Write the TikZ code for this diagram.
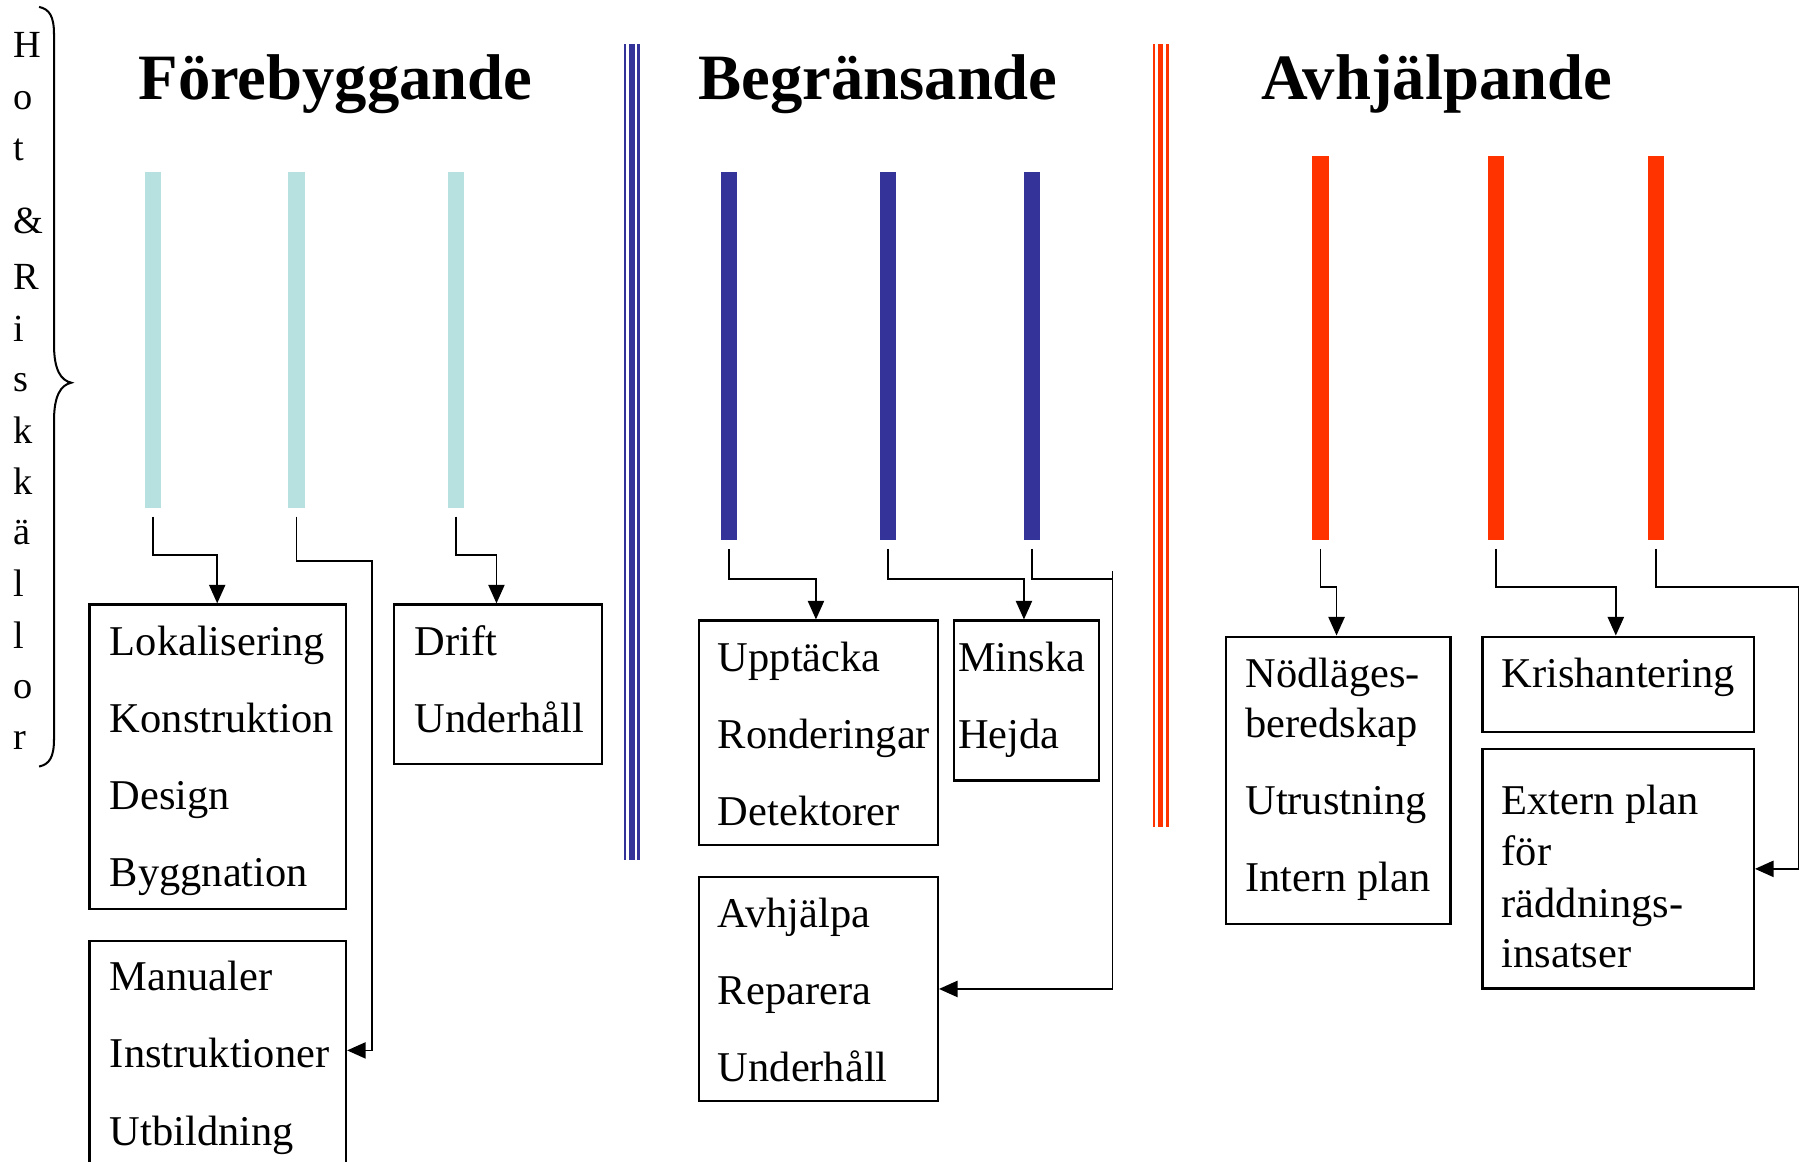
\documentclass[tikz,border=0pt]{standalone}
\usepackage{fontspec}
\setmainfont{Liberation Serif}
\usetikzlibrary{arrows.meta}
\definecolor{cyanbar}{RGB}{183,224,224}
\definecolor{bluebar}{RGB}{51,51,153}
\definecolor{redbar}{RGB}{255,51,0}
\begin{document}
\begin{tikzpicture}[x=0.01cm,y=-0.01cm,
 box/.style={draw, line width=0.55pt, inner sep=0pt, anchor=north west},
 txt/.style={anchor=base west, inner sep=0pt, font=\fontsize{10.5}{12}\selectfont},
 ttl/.style={anchor=base, inner sep=0pt, font=\fontsize{16}{18}\selectfont\bfseries},
 vlet/.style={anchor=base west, inner sep=0pt, font=\fontsize{9.5}{11}\selectfont},
 vbar/.style={anchor=north, inner sep=0pt, minimum width=0.14cm, draw=none},
 conn/.style={line width=0.45pt, -{Triangle[length=4.6pt,width=4pt]}},
 plain/.style={line width=0.45pt},
]
\clip (0,0) rectangle (1568,1011);
\fill[white] (0,0) rectangle (1568,1011);

% vertical text
\foreach \c/\y [count=\i] in {H/50, o/95, t/140, \&/203, R/252, i/297, s/341, k/386, k/430, ä/474, l/519, l/564, o/608, r/652}
  \node[vlet] (v\i) at (11,\y) {\c};

% brace
\draw[line width=0.5pt] (34,6) .. controls (43,8) and (47,14) .. (47,30) -- (47,300)
  .. controls (47,322) and (53,331) .. (62,333)
  .. controls (53,335) and (47,344) .. (47,366) -- (47,643)
  .. controls (47,659) and (43,665) .. (34,667);

% titles
\node[ttl] (T1) at (292,87) {Förebyggande};
\node[ttl] (T2) at (764,87) {Begränsande};
\node[ttl] (T3) at (1250,87) {Avhjälpande};

% separators
\fill[bluebar] (543,38) rectangle (544.6,748);
\fill[bluebar] (547.7,38) rectangle (552.3,748);
\fill[bluebar] (554.7,38) rectangle (557,748);
\fill[redbar] (1003,38) rectangle (1004.8,720);
\fill[redbar] (1007.7,38) rectangle (1012.3,720);
\fill[redbar] (1014.7,38) rectangle (1017,720);

% bars
\node[vbar, fill=cyanbar, minimum height=2.92cm] (A1) at (133,149) {};
\node[vbar, fill=cyanbar, minimum height=2.92cm] (A2) at (258,149) {};
\node[vbar, fill=cyanbar, minimum height=2.92cm] (A3) at (397,149) {};
\node[vbar, fill=bluebar, minimum height=3.20cm] (B1) at (634,149) {};
\node[vbar, fill=bluebar, minimum height=3.20cm] (B2) at (773,149) {};
\node[vbar, fill=bluebar, minimum height=3.20cm] (B3) at (898,149) {};
\node[vbar, fill=redbar, minimum height=3.34cm] (C1) at (1149,135) {};
\node[vbar, fill=redbar, minimum height=3.34cm] (C2) at (1302,135) {};
\node[vbar, fill=redbar, minimum height=3.34cm] (C3) at (1441,135) {};

% boxes
\node[box, minimum width=2.23cm, minimum height=2.65cm] (L1) at (77,525) {};
\node[box, minimum width=2.23cm, minimum height=2.30cm] (L2) at (77,818) {};
\node[box, minimum width=1.81cm, minimum height=1.39cm] (L3) at (342,525) {};
\node[box, minimum width=2.08cm, minimum height=1.95cm] (M1) at (607,539) {};
\node[box, minimum width=1.26cm, minimum height=1.39cm] (M2) at (829,539) {};
\node[box, minimum width=2.08cm, minimum height=1.95cm] (M3) at (607,762) {};
\node[box, minimum width=1.95cm, minimum height=2.50cm] (R1) at (1066,553) {};
\node[box, minimum width=2.36cm, minimum height=0.83cm] (R2) at (1289,553) {};
\node[box, minimum width=2.36cm, minimum height=2.08cm] (R3) at (1289,651) {};

% texts
\node[txt] (L1a) at (95,570) {Lokalisering};
\node[txt] (L1b) at (95,637) {Konstruktion};
\node[txt] (L1c) at (95,704) {Design};
\node[txt] (L1d) at (95,771) {Byggnation};
\node[txt] (L2a) at (95,862) {Manualer};
\node[txt] (L2b) at (95,929) {Instruktioner};
\node[txt] (L2c) at (95,997) {Utbildning};
\node[txt] (L3a) at (360,570) {Drift};
\node[txt] (L3b) at (360,637) {Underhåll};
\node[txt] (M1a) at (624,584) {Upptäcka};
\node[txt] (M1b) at (624,651) {Ronderingar};
\node[txt] (M1c) at (624,718) {Detektorer};
\node[txt] (M2a) at (833,584) {Minska};
\node[txt] (M2b) at (833,651) {Hejda};
\node[txt] (M3a) at (624,807) {Avhjälpa};
\node[txt] (M3b) at (624,874) {Reparera};
\node[txt] (M3c) at (624,941) {Underhåll};
\node[txt] (R1a) at (1083,598) {Nödläges-};
\node[txt] (R1b) at (1083,642) {beredskap};
\node[txt] (R1c) at (1083,709) {Utrustning};
\node[txt] (R1d) at (1083,776) {Intern plan};
\node[txt] (R2a) at (1306,598) {Krishantering};
\node[txt] (R3a) at (1306,709) {Extern plan};
\node[txt] (R3b) at (1306,753) {för};
\node[txt] (R3c) at (1306,798) {räddnings-};
\node[txt] (R3d) at (1306,842) {insatser};

% connectors
\coordinate (k1) at (189,483);
\draw[conn] ([yshift=-2pt]A1.south) |- (k1) -- (k1 |- L1.north);
\coordinate (k2) at (324,488);
\coordinate (k2b) at (324,914);
\draw[conn] ([yshift=-2pt]A2.south) |- (k2) -- (k2b) -- (k2b -| L2.east);
\coordinate (k3) at (432,483);
\draw[conn] ([yshift=-2pt]A3.south) |- (k3) -- (k3 |- L3.north);
\coordinate (k4) at (710,504);
\draw[conn] ([yshift=-2pt]B1.south) |- (k4) -- (k4 |- M1.north);
\coordinate (k5) at (891,504);
\draw[conn] ([yshift=-2pt]B2.south) |- (k5) -- (k5 |- M2.north);
\coordinate (k6) at (968,504);
\coordinate (k6b) at (968,497);
\draw[plain] ([yshift=-2pt]B3.south) |- (k6);
\draw[conn] (k6b) |- (M3.east);
\coordinate (k7) at (1163,511);
\draw[conn] ([yshift=-2pt]C1.south) |- (k7) -- (k7 |- R1.north);
\coordinate (k8) at (1406,511);
\draw[conn] ([yshift=-2pt]C2.south) |- (k8) -- (k8 |- R2.north);
\coordinate (k9) at (1565,511);
\draw[conn] ([yshift=-2pt]C3.south) |- (k9) |- (R3.east);
\end{tikzpicture}
\end{document}
